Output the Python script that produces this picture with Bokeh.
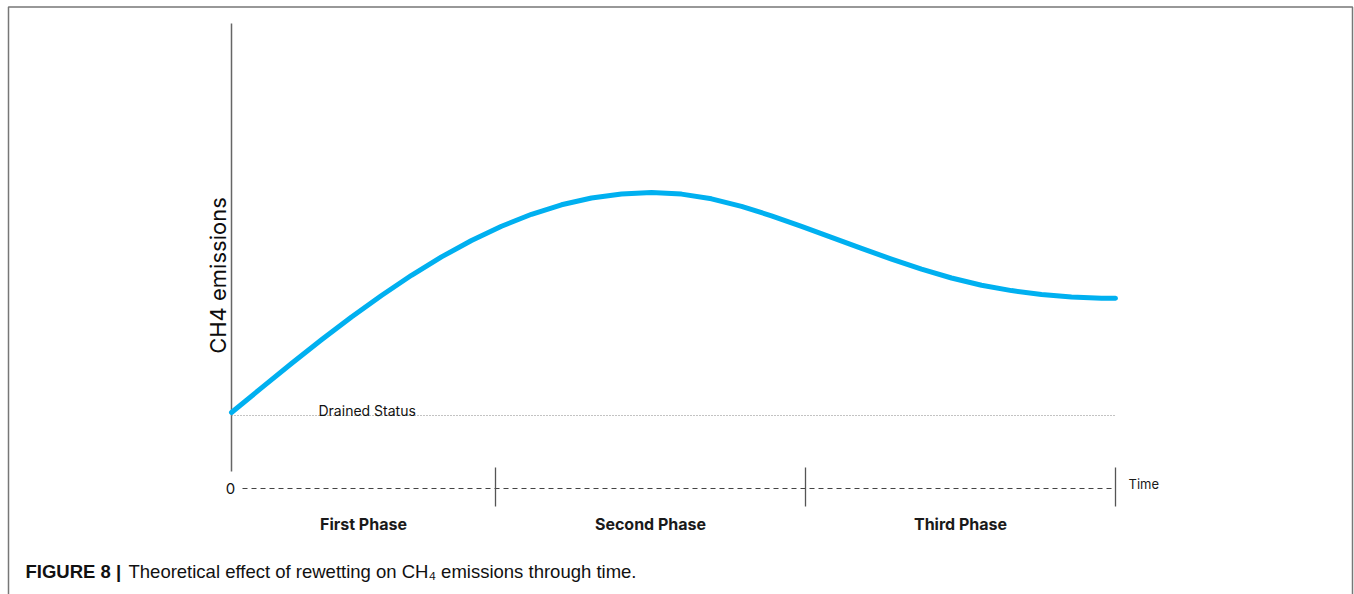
from bokeh.plotting import figure
from bokeh.models import Range1d
from bokeh.core.properties import value
from bokeh.embed import file_html
from bokeh.resources import INLINE
import math

# ---- data (time in arbitrary units, CH4 emissions in arbitrary units; 0 = zero line) ----
time = [0, 30, 60, 90, 120, 150, 180, 210, 240, 270, 300, 330, 360, 390, 420,
        450, 480, 510, 540, 570, 600, 630, 660, 690, 720, 750, 780, 810, 840, 870, 884]
ch4 = [76, 100.6, 125.0, 148.7, 171.5, 193.0, 213.2, 231.6, 248.0, 262.3, 274.2, 283.7,
       290.5, 294.6, 296.0, 294.4, 289.7, 282.1, 272.65, 262.1, 251.1, 240.1, 229.4,
       219.3, 210.5, 203.25, 197.9, 194.1, 191.6, 190.35, 190.2]
drained_level = 73
phase_bounds = [0, 264, 574, 884]
phase_names = ["First Phase", "Second Phase", "Third Phase"]
drained_label = "Drained Status"
y_label = "CH4 emissions"
x_label = "Time"
zero_label = "0"
caption_bold = "FIGURE 8 |"
caption_text = "Theoretical effect of rewetting on CH\u2084 emissions through time."

W, H = 1354, 594
p = figure(width=W, height=H, output_backend="svg", toolbar_location=None,
           x_range=Range1d(-231, 1123), y_range=Range1d(-106, 488),
           x_axis_location=None, y_axis_location=None, min_border=0)
p.grid.visible = False
p.outline_line_color = None
p.background_fill_color = "white"
p.border_fill_color = "white"

# frame border (left, top, right)
p.line([-223, -223, 1121, 1121], [-200, 481.5, 481.5, -200],
       line_color="#777777", line_width=1.5)

# vertical (emissions) axis line
p.line([0, 0], [17, 465], line_color="#666666", line_width=1.5)

# zero dashed time line
p.line([11, phase_bounds[-1]], [0, 0], line_color="#444444", line_width=1.2, line_dash="5 4")

# phase ticks
for b in phase_bounds[1:]:
    p.line([b, b], [-18, 21], line_color="#555555", line_width=1.3)

# drained status dotted line
p.line([0, phase_bounds[-1]], [drained_level, drained_level], line_color="#888888",
       line_width=1.2, line_dash="1 2")

# the emissions curve
p.line(time, ch4, line_color="#00B0F0", line_width=5, line_cap="round", line_join="round")

font = value("Inter")
txt = "#1a1a1a"
p.text([87], [drained_level + 5], text=[drained_label], text_font=font,
       text_font_size="14px", text_color="#111111", text_baseline="alphabetic",
       text_align="left")
p.text([-1], [0], text=[zero_label], text_font=font, text_font_size="15px",
       text_color="#111111", text_baseline="middle", text_align="center")
p.text([phase_bounds[-1] + 13], [5], text=[x_label], text_font=font, text_font_size="13px",
       text_color=txt, text_baseline="middle", text_align="left")
mids = [(phase_bounds[i] + phase_bounds[i + 1]) / 2 for i in range(3)]
p.text(mids, [-35] * 3, text=phase_names, text_font=font, text_font_size="16px",
       text_font_style="bold", text_color=txt, text_baseline="middle", text_align="center")
p.text([-14], [213], text=[y_label], angle=math.pi / 2, text_font=font,
       text_font_size="22px", text_color="#0d0d0d", text_baseline="alphabetic",
       text_align="center")

# caption
cfont = value("Liberation Sans")
p.text([-206], [-83], text=[caption_bold], text_font=cfont, text_font_size="18.5px",
       text_font_style="bold", text_color="#111111", text_baseline="alphabetic")
p.text([-103], [-83], text=[caption_text], text_font=cfont, text_font_size="18.5px",
       text_color="#111111", text_baseline="alphabetic")

open("out.html", "w").write(file_html(p, INLINE))
